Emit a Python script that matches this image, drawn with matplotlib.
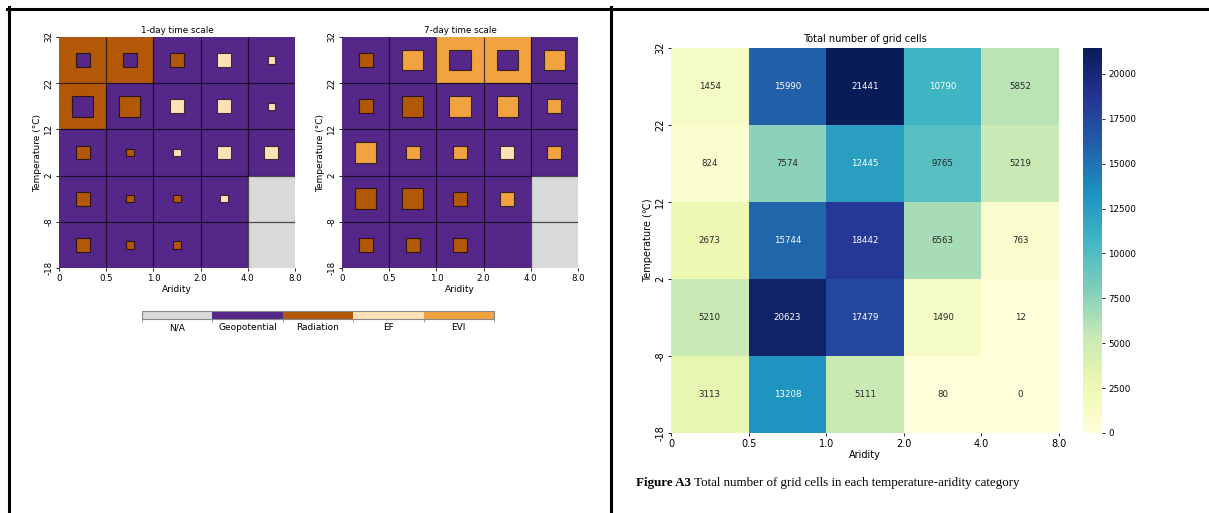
import numpy as np
import matplotlib.pyplot as plt
import seaborn as sns
from matplotlib.colors import ListedColormap, BoundaryNorm
from matplotlib.patches import Rectangle
from matplotlib.lines import Line2D
import matplotlib.cm as cm

# axis labels (bin edges)
temp_labels = ["32", "22", "12", "2", "-8", "-18"]
arid_labels = ["0", "0.5", "1.0", "2.0", "4.0", "8.0"]

# dominant driver categories: 0 N/A, 1 Geopotential, 2 Radiation, 3 EF, 4 EVI
driver_names = ["N/A", "Geopotential", "Radiation", "EF", "EVI"]
driver_colors = ["#d9d9d9", "#542788", "#b35806", "#fee0b6", "#f1a340"]

# 1-day: background driver, inner-square driver, inner-square size level (0 = none)
bg_1day = [[2, 2, 1, 1, 1],
           [2, 1, 1, 1, 1],
           [1, 1, 1, 1, 1],
           [1, 1, 1, 1, 0],
           [1, 1, 1, 1, 0]]
inner_1day = [[1, 1, 2, 3, 3],
              [1, 2, 3, 3, 3],
              [2, 2, 3, 3, 3],
              [2, 2, 2, 3, 0],
              [2, 2, 2, 0, 0]]
size_1day = [[2, 2, 2, 2, 1],
             [3, 3, 2, 2, 1],
             [2, 1, 1, 2, 2],
             [2, 1, 1, 1, 0],
             [2, 1, 1, 0, 0]]

# 7-day
bg_7day = [[1, 1, 4, 4, 1],
           [1, 1, 1, 1, 1],
           [1, 1, 1, 1, 1],
           [1, 1, 1, 1, 0],
           [1, 1, 1, 1, 0]]
inner_7day = [[2, 4, 1, 1, 4],
              [2, 2, 4, 4, 4],
              [4, 4, 4, 3, 4],
              [2, 2, 2, 4, 0],
              [2, 2, 2, 0, 0]]
size_7day = [[2, 3, 3, 3, 3],
             [2, 3, 3, 3, 2],
             [3, 2, 2, 2, 2],
             [3, 3, 2, 2, 0],
             [2, 2, 2, 0, 0]]

# total number of grid cells per category
grid_counts = [[1454, 15990, 21441, 10790, 5852],
               [824, 7574, 12445, 9765, 5219],
               [2673, 15744, 18442, 6563, 763],
               [5210, 20623, 17479, 1490, 12],
               [3113, 13208, 5111, 80, 0]]

W, H = 1209, 513
fig = plt.figure(figsize=(W / 100, H / 100), dpi=100)


def box(x0, y0, x1, y1):
    # pixel box -> figure fraction
    return [x0 / W, 1 - y1 / H, (x1 - x0) / W, (y1 - y0) / H]


driver_cmap = ListedColormap(driver_colors)
driver_norm = BoundaryNorm(np.arange(6), driver_cmap.N)
square_frac = {1: 0.16, 2: 0.30, 3: 0.45}
line_col = (0, 0, 0, 0.65)


def draw_drivers(ax, bg, inner, size, title):
    ax.pcolormesh(np.arange(6), np.arange(6), np.array(bg), cmap=driver_cmap,
                  norm=driver_norm, linewidth=0, antialiased=False)
    ax.vlines(np.arange(1, 5), 0, 5, colors=[line_col], linewidth=0.9)
    ax.hlines(np.arange(1, 5), 0, 5, colors=[line_col], linewidth=0.9)
    for i in range(5):
        for j in range(5):
            if size[i][j] == 0:
                continue
            s = square_frac[size[i][j]]
            ax.add_patch(Rectangle((j + 0.5 - s / 2, i + 0.5 - s / 2), s, s,
                                   facecolor=driver_colors[inner[i][j]],
                                   edgecolor=line_col, linewidth=0.8))
    ax.set_xlim(0, 5)
    ax.set_ylim(5, 0)
    ax.set_xticks(range(6))
    ax.set_xticklabels(arid_labels)
    ax.set_yticks(range(6))
    ax.set_yticklabels(temp_labels, rotation=90, va="center")
    ax.tick_params(labelsize=6.2, length=2.5, width=0.6, pad=1.5)
    for sp in ax.spines.values():
        sp.set_visible(False)
    ax.set_title(title, fontsize=6.3, pad=3)
    ax.set_xlabel("Aridity", fontsize=6.5, labelpad=2)
    ax.set_ylabel("Temperature (°C)", fontsize=6.5, labelpad=2)


ax1 = fig.add_axes(box(59, 37, 295, 268))
draw_drivers(ax1, bg_1day, inner_1day, size_1day, "1-day time scale")
ax2 = fig.add_axes(box(342, 37, 578, 268))
draw_drivers(ax2, bg_7day, inner_7day, size_7day, "7-day time scale")

# categorical legend bar
lax = fig.add_axes(box(142, 311, 494, 319))
cb = fig.colorbar(cm.ScalarMappable(norm=driver_norm, cmap=driver_cmap), cax=lax,
                  orientation="horizontal", ticks=np.arange(5) + 0.5)
cb.set_ticklabels(driver_names)
cb.outline.set_edgecolor("#888888")
cb.outline.set_linewidth(0.8)
lax.set_xticks(np.arange(6), minor=True)
lax.tick_params(which="major", length=0, labelsize=6.5, pad=3)
lax.tick_params(which="minor", length=2, width=0.6, color="#888888")

# right panel: counts heatmap
ax3 = fig.add_axes(box(671, 48, 1059, 433))
cax = fig.add_axes(box(1083, 48, 1102, 433))
sns.heatmap(np.array(grid_counts), ax=ax3, cbar_ax=cax, cmap="YlGnBu",
            annot=True, fmt="d", annot_kws={"size": 6.2})
ax3.set_xticks(range(6))
ax3.set_xticklabels(arid_labels, rotation=0)
ax3.set_yticks(range(6))
ax3.set_yticklabels(temp_labels, rotation=90, va="center")
ax3.tick_params(labelsize=7, length=2.5, width=0.6, pad=1.5)
ax3.set_title("Total number of grid cells", fontsize=7, pad=4)
ax3.set_xlabel("Aridity", fontsize=7, labelpad=1)
ax3.set_ylabel("Temperature (℃)", fontsize=7, labelpad=2)
cax.tick_params(labelsize=6.3, length=2.5, width=0.6, pad=2)

# caption
renderer = fig.canvas.get_renderer()
t1 = fig.text(636 / W, 1 - 483 / H, "Figure A3", family="Liberation Serif",
              weight="bold", fontsize=9.4, va="center")
bb = t1.get_window_extent(renderer)
fig.text((bb.x1 + 3) / W, 1 - 483 / H,
         "Total number of grid cells in each temperature-aridity category",
         family="Liberation Serif", fontsize=9.4, va="center")

# frame lines
fig.add_artist(Line2D([7 / W, 1], [1 - 8.5 / H] * 2, color="black", lw=2.2,
                      transform=fig.transFigure))
fig.add_artist(Line2D([8.5 / W] * 2, [1 - 7 / H, 0], color="black", lw=2.2,
                      transform=fig.transFigure))
fig.add_artist(Line2D([610.5 / W] * 2, [1 - 7 / H, 0], color="black", lw=2.2,
                      transform=fig.transFigure))

fig.savefig("out.png", dpi=100)
